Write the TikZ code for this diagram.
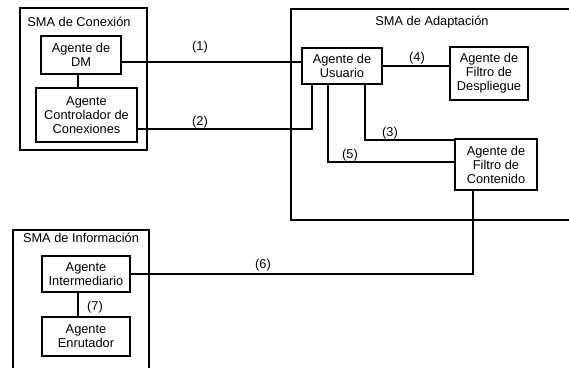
\documentclass[tikz,border=0pt]{standalone}
\usepackage{fontspec}
\setmainfont{Liberation Sans}
\begin{document}
\begin{tikzpicture}[x=1pt,y=-1pt,
  every node/.style={font=\fontsize{12.8}{14}\selectfont, inner sep=0pt},
  agent/.style={draw, line width=1.1pt, align=center, minimum width=#1},
  group/.style={draw, line width=1.1pt},
  conn/.style={line width=1.1pt},
  lbl/.style={font=\fontsize{12.8}{14}\selectfont}]
\useasboundingbox (0,0) rectangle (569,367);
\begin{scope}
\clip (0,0) rectangle (569,367);
% groups
\draw[group] (20,8) rectangle (147,150);
\draw[group] (291,9) rectangle (580,220);
\draw[group] (13,230) rectangle (149,380);
\end{scope}
\node (tcon) at (79,22) {SMA de Conexión};
\node (tada) at (432,22) {SMA de Adaptación};
\node (tinf) at (81,238) {SMA de Información};
% agents
\node[agent=80pt, minimum height=38pt] (dm) at (81,55) {Agente de\\DM};
\node[agent=101pt, minimum height=54pt] (ctrl) at (86.5,115) {Agente\\Controlador de\\Conexiones};
\node[agent=80pt, minimum height=36pt] (usr) at (342,66) {Agente de\\Usuario};
\node[agent=78pt, minimum height=53pt] (desp) at (489,73.5) {Agente de\\Filtro de\\Despliegue};
\node[agent=82pt, minimum height=51pt] (cont) at (496,164.5) {Agente de\\Filtro de\\Contenido};
\node[agent=88pt, minimum height=36pt] (inter) at (86,274) {Agente\\Intermediario};
\node[agent=88pt, minimum height=39pt] (enr) at (86,336.5) {Agente\\Enrutador};
% helper coordinates
\coordinate (c1) at (0,62);
\coordinate (c2) at (312,129);
\coordinate (c3) at (365,140);
\coordinate (c4) at (0,66);
\coordinate (c5) at (328,162);
\coordinate (c6) at (473,274);
\coordinate (c7) at (78,0);
% connectors
\draw[conn] (c7 |- dm.south) -- (c7 |- ctrl.north);
\draw[conn] (dm.east |- c1) -- (usr.west |- c1);
\draw[conn] (ctrl.east |- c2) -- (c2) -- (c2 |- usr.south);
\draw[conn] (c3 |- usr.south) -- (c3) -- (cont.west |- c3);
\draw[conn] (usr.east |- c4) -- (desp.west |- c4);
\draw[conn] (c5 |- usr.south) -- (c5) -- (cont.west |- c5);
\draw[conn] (c6 |- cont.south) -- (c6) -- (inter.east |- c6);
\draw[conn] (c7 |- inter.south) -- (c7 |- enr.north);
% labels
\node[lbl] (l1) at (200,47) {(1)};
\node[lbl] (l2) at (200,122) {(2)};
\node[lbl] (l3) at (390,133) {(3)};
\node[lbl] (l4) at (417,58) {(4)};
\node[lbl] (l5) at (350,155) {(5)};
\node[lbl] (l6) at (263,265) {(6)};
\node[lbl] (l7) at (95,307) {(7)};
\end{tikzpicture}
\end{document}
